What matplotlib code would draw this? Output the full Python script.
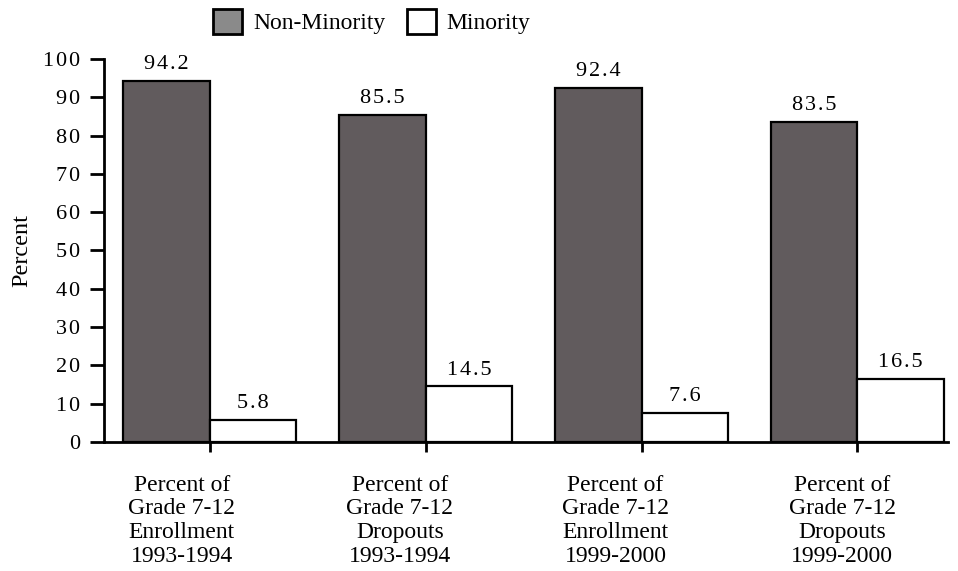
import matplotlib
matplotlib.use('Agg')
import matplotlib.pyplot as plt
from matplotlib.patches import Patch
import numpy as np

plt.rcParams['font.family'] = ['Liberation Serif', 'DejaVu Serif']

# Data
categories = ['Percent of\nGrade 7-12\nEnrollment\n1993-1994',
              'Percent of\nGrade 7-12\nDropouts\n1993-1994',
              'Percent of\nGrade 7-12\nEnrollment\n1999-2000',
              'Percent of\nGrade 7-12\nDropouts\n1999-2000']
non_minority = [94.2, 85.5, 92.4, 83.5]
minority = [5.8, 14.5, 7.6, 16.5]
y_ticks = [0, 10, 20, 30, 40, 50, 60, 70, 80, 90, 100]

dark = '#615b5d'
legend_gray = '#8a8a8a'
HAIR = '\u200a'


def spaced(s):
    # the original numbers are set with loose letter spacing
    return HAIR.join(s)


fig = plt.figure(figsize=(9.58, 5.71), dpi=100)
fig.patch.set_facecolor('white')
ax = fig.add_axes([0.1086, 0.2259, 0.8810, 0.6708])

x = np.arange(len(categories))
w = 0.4
ax.bar(x, non_minority, width=-w, align='edge', color=dark, edgecolor='black', linewidth=1.6)
ax.bar(x, minority, width=w, align='edge', color='white', edgecolor='black', linewidth=1.6)

for xi, v in zip(x, non_minority):
    ax.annotate(spaced(f'{v:.1f}'), (xi - w / 2, v), xytext=(0, 5), textcoords='offset points',
                ha='center', va='bottom', fontsize=16)
for xi, v in zip(x, minority):
    ax.annotate(spaced(f'{v:.1f}'), (xi + w / 2, v), xytext=(0, 5), textcoords='offset points',
                ha='center', va='bottom', fontsize=16)

ax.set_xlim(-0.49, 3.42)
ax.set_ylim(0, 100)
ax.set_yticks(y_ticks)
ax.set_yticklabels([spaced(str(t)) for t in y_ticks], fontsize=16)
ax.set_xticks(x)
ax.set_xticklabels([])

for s in ['top', 'right']:
    ax.spines[s].set_visible(False)
for s in ['left', 'bottom']:
    ax.spines[s].set_linewidth(2)
ax.tick_params(axis='y', length=10, width=2, pad=7)
ax.tick_params(axis='x', length=7, width=2)

# category labels, slightly left of each tick
offsets = [-0.13, -0.12, -0.12, -0.07]
for xi, lab, off in zip(x, categories, offsets):
    ax.text(xi + off, -0.085, lab, transform=ax.get_xaxis_transform(),
            ha='center', va='top', fontsize=17, linespacing=1.18)

ax.set_ylabel('Percent', fontsize=17.5)
ax.yaxis.set_label_coords(-0.085, 0.5)

handles = [Patch(facecolor=legend_gray, edgecolor='black', linewidth=2, label='Non-Minority'),
           Patch(facecolor='white', edgecolor='black', linewidth=2, label='Minority')]
fig.legend(handles=handles, loc='center', bbox_to_anchor=(0.388, 0.962), ncol=2,
           frameon=False, fontsize=17, handlelength=1.25, handleheight=1.25,
           handletextpad=0.45, columnspacing=0.9, borderpad=0)

fig.savefig('out.png', dpi=100, facecolor='white')
